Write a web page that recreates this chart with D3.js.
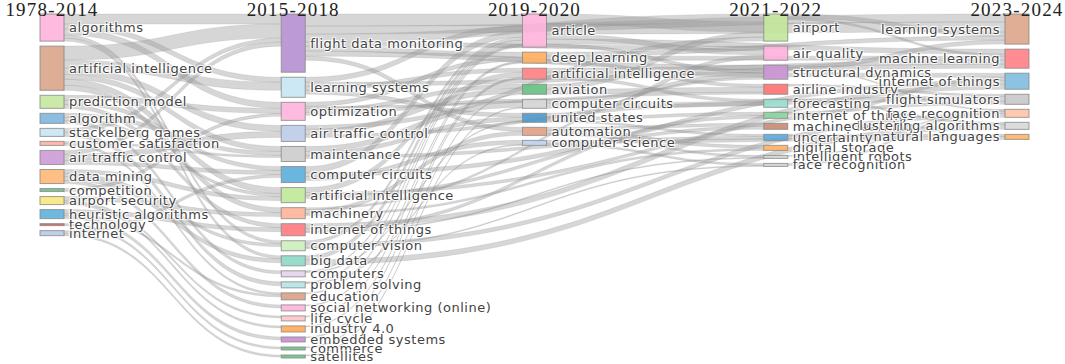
<!DOCTYPE html>
<html>
<head>
<meta charset="utf-8">
<script src="https://cdn.jsdelivr.net/npm/d3@7"></script>
<style>
  body { margin: 0; background: #fff; }
  .label {
    font-family: "DejaVu Sans", Verdana, sans-serif;
    font-size: 13px;
    letter-spacing: 0.5px;
    fill: #444;
    text-shadow: 1px 1px 1px #fff, -1px -1px 1px #fff, 1px -1px 1px #fff, -1px 1px 1px #fff;
  }
  .period {
    font-family: "Liberation Serif", "Times New Roman", serif;
    font-size: 19px;
    letter-spacing: 1.2px;
    fill: #222;
  }
</style>
</head>
<body>
<script>
// Periods (columns)
const periods = ["1978-2014", "2015-2018", "2019-2020", "2021-2022", "2023-2024"];

// Topics and their weights per period
const terms1 = ["algorithms", "artificial intelligence", "prediction model", "algorithm", "stackelberg games",
  "customer satisfaction", "air traffic control", "data mining", "competition", "airport security",
  "heuristic algorithms", "technology", "internet"];
const weights1 = [27, 44, 13, 10, 8, 4, 14, 14, 3, 8, 9, 2, 5];

const terms2 = ["flight data monitoring", "learning systems", "optimization", "air traffic control", "maintenance",
  "computer circuits", "artificial intelligence", "machinery", "internet of things", "computer vision", "big data",
  "computers", "problem solving", "education", "social networking (online)", "life cycle", "industry 4.0",
  "embedded systems", "commerce", "satellites"];
const weights2 = [58, 20, 18, 16, 15, 16, 15, 11, 12, 10, 10, 6, 6, 7, 6, 5, 6, 5, 3, 3];

const terms3 = ["article", "deep learning", "artificial intelligence", "aviation", "computer circuits",
  "united states", "automation", "computer science"];
const weights3 = [33, 11, 11, 10, 9, 9, 8, 5];

const terms4 = ["airport", "air quality", "structural dynamics", "airline industry", "forecasting",
  "internet of things", "machine learning", "uncertainty", "digital storage", "intelligent robots", "face recognition"];
const weights4 = [27, 14, 14, 10, 8, 6, 6, 6, 5, 3, 3];

const terms5 = ["learning systems", "machine learning", "internet of things", "flight simulators",
  "face recognition", "clustering algorithms", "natural languages"];
const weights5 = [30, 19, 16, 10, 8, 7, 5];

// Flows: [from period, from term, to period, to term, value]
const flows = [
  [0, "algorithms", 1, "flight data monitoring", 10],
  [0, "algorithms", 1, "learning systems", 5],
  [0, "algorithms", 1, "optimization", 6],
  [0, "algorithms", 1, "computer vision", 3],
  [0, "algorithms", 1, "big data", 3],
  [0, "artificial intelligence", 1, "flight data monitoring", 14],
  [0, "artificial intelligence", 1, "learning systems", 8],
  [0, "artificial intelligence", 1, "air traffic control", 6],
  [0, "artificial intelligence", 1, "maintenance", 5],
  [0, "artificial intelligence", 1, "artificial intelligence", 6],
  [0, "artificial intelligence", 1, "machinery", 5],
  [0, "prediction model", 1, "optimization", 5],
  [0, "prediction model", 1, "computer circuits", 4],
  [0, "prediction model", 1, "internet of things", 4],
  [0, "algorithm", 1, "maintenance", 4],
  [0, "algorithm", 1, "artificial intelligence", 3],
  [0, "algorithm", 1, "computers", 3],
  [0, "stackelberg games", 1, "flight data monitoring", 4],
  [0, "stackelberg games", 1, "problem solving", 4],
  [0, "customer satisfaction", 1, "maintenance", 2],
  [0, "customer satisfaction", 1, "education", 2],
  [0, "air traffic control", 1, "air traffic control", 6],
  [0, "air traffic control", 1, "flight data monitoring", 4],
  [0, "air traffic control", 1, "computer circuits", 4],
  [0, "data mining", 1, "artificial intelligence", 4],
  [0, "data mining", 1, "big data", 4],
  [0, "data mining", 1, "computer vision", 3],
  [0, "data mining", 1, "social networking (online)", 3],
  [0, "competition", 1, "optimization", 3],
  [0, "airport security", 1, "machinery", 4],
  [0, "airport security", 1, "life cycle", 2],
  [0, "airport security", 1, "industry 4.0", 2],
  [0, "heuristic algorithms", 1, "internet of things", 4],
  [0, "heuristic algorithms", 1, "embedded systems", 3],
  [0, "heuristic algorithms", 1, "education", 2],
  [0, "technology", 1, "commerce", 2],
  [0, "internet", 1, "computer circuits", 3],
  [0, "internet", 1, "satellites", 2],

  [1, "flight data monitoring", 2, "article", 12],
  [1, "flight data monitoring", 2, "deep learning", 5],
  [1, "flight data monitoring", 2, "automation", 4],
  [1, "flight data monitoring", 4, "learning systems", 8],
  [1, "flight data monitoring", 3, "airport", 8],
  [1, "flight data monitoring", 3, "structural dynamics", 5],
  [1, "flight data monitoring", 3, "air quality", 4],
  [1, "learning systems", 2, "article", 5],
  [1, "learning systems", 2, "artificial intelligence", 4],
  [1, "learning systems", 2, "united states", 4],
  [1, "learning systems", 4, "machine learning", 4],
  [1, "optimization", 2, "deep learning", 4],
  [1, "optimization", 2, "aviation", 4],
  [1, "optimization", 2, "computer circuits", 3],
  [1, "optimization", 3, "airline industry", 2],
  [1, "air traffic control", 2, "aviation", 5],
  [1, "air traffic control", 3, "airport", 4],
  [1, "air traffic control", 3, "forecasting", 3],
  [1, "maintenance", 2, "computer circuits", 5],
  [1, "maintenance", 2, "united states", 4],
  [1, "maintenance", 3, "uncertainty", 3],
  [1, "computer circuits", 2, "article", 6],
  [1, "computer circuits", 2, "computer science", 4],
  [1, "computer circuits", 4, "internet of things", 4],
  [1, "artificial intelligence", 2, "artificial intelligence", 5],
  [1, "artificial intelligence", 4, "flight simulators", 3],
  [1, "artificial intelligence", 3, "machine learning", 3],
  [1, "machinery", 2, "automation", 4],
  [1, "machinery", 3, "structural dynamics", 2],
  [1, "machinery", 3, "digital storage", 2],
  [1, "internet of things", 3, "internet of things", 3],
  [1, "internet of things", 4, "internet of things", 5],
  [1, "internet of things", 3, "intelligent robots", 1],
  [1, "computer vision", 2, "article", 3],
  [1, "computer vision", 3, "face recognition", 1],
  [1, "computer vision", 4, "face recognition", 4],
  [1, "big data", 2, "article", 4],
  [1, "big data", 4, "clustering algorithms", 5],
  [1, "computers", 2, "article", 1],
  [1, "computers", 2, "united states", 1],
  [1, "problem solving", 2, "article", 1],
  [1, "problem solving", 2, "computer science", 1],
  [1, "education", 2, "article", 1],
  [1, "social networking (online)", 2, "deep learning", 1],
  [1, "life cycle", 2, "deep learning", 1],
  [1, "industry 4.0", 2, "artificial intelligence", 1],
  [1, "embedded systems", 2, "artificial intelligence", 1],
  [1, "commerce", 2, "aviation", 1],
  [1, "satellites", 2, "computer circuits", 1],

  [2, "article", 3, "airport", 10],
  [2, "article", 4, "learning systems", 10],
  [2, "article", 3, "air quality", 5],
  [2, "article", 4, "machine learning", 5],
  [2, "article", 3, "structural dynamics", 3],
  [2, "deep learning", 4, "learning systems", 4],
  [2, "deep learning", 4, "machine learning", 4],
  [2, "deep learning", 3, "airline industry", 3],
  [2, "artificial intelligence", 4, "machine learning", 4],
  [2, "artificial intelligence", 3, "forecasting", 3],
  [2, "artificial intelligence", 4, "internet of things", 4],
  [2, "aviation", 3, "airport", 5],
  [2, "aviation", 3, "airline industry", 5],
  [2, "computer circuits", 3, "structural dynamics", 4],
  [2, "computer circuits", 4, "flight simulators", 5],
  [2, "united states", 3, "air quality", 4],
  [2, "united states", 3, "internet of things", 3],
  [2, "united states", 3, "uncertainty", 2],
  [2, "automation", 3, "machine learning", 3],
  [2, "automation", 3, "intelligent robots", 2],
  [2, "automation", 3, "digital storage", 3],
  [2, "computer science", 4, "natural languages", 3],
  [2, "computer science", 3, "face recognition", 2],

  [3, "airport", 4, "learning systems", 4],
  [3, "airport", 4, "machine learning", 2],
  [3, "structural dynamics", 4, "learning systems", 4],
  [3, "structural dynamics", 4, "face recognition", 1],
  [3, "airline industry", 4, "flight simulators", 2],
  [3, "forecasting", 4, "clustering algorithms", 2],
  [3, "internet of things", 4, "internet of things", 3],
  [3, "uncertainty", 4, "natural languages", 2],
  [3, "face recognition", 4, "face recognition", 2],
  [3, "intelligent robots", 4, "face recognition", 1]
];

// Node colours (style, kept apart from the data)
const colors1 = ["#ffb3dc", "#d9a48a", "#c5e8a0", "#7fb6df", "#c8e4f2", "#ffb0a0", "#cc9ad6", "#ffb877",
  "#6fbf88", "#f9e67f", "#5fb0dc", "#d46060", "#b8c9ea"];
const colors2 = ["#b48fd0", "#c5e5f3", "#ffb3dc", "#bccbe8", "#cccccc", "#5aaedc", "#bfe898", "#ffb399",
  "#ff7a80", "#cdeebd", "#8dd8c5", "#e3d3ea", "#b4e6e3", "#d9a085", "#ffb3dc", "#ffc4c8", "#ffaa55",
  "#c98cd0", "#6dc086", "#6dc086"];
const colors3 = ["#ffb3dc", "#ffae5c", "#ff8080", "#66c080", "#d4d4d4", "#4b98c8", "#e39e80", "#bccfee"];
const colors4 = ["#c2e69a", "#ffb0dc", "#c992d4", "#ff7070", "#99dfcf", "#88d49c", "#c78a72", "#5aa9dc",
  "#ffb060", "#d4d4d4", "#d4d4d4"];
const colors5 = ["#dca58a", "#ff7f85", "#80bce0", "#c8c8c8", "#ffc2a8", "#d8d8d8", "#ffb466"];

const width = 1065, height = 364;
const nodeWidth = 24, pad = 5, topY = 14, bottomY = 358;

const svg = d3.select("body").append("svg")
  .attr("width", width)
  .attr("height", height);

const allTerms = [terms1, terms2, terms3, terms4, terms5];
const allWeights = [weights1, weights2, weights3, weights4, weights5];
const allColors = [colors1, colors2, colors3, colors4, colors5];

const x = d3.scalePoint().domain(periods).range([40, 1005]);

const columns = allTerms.map((terms, c) => terms.map((t, i) => ({
  col: c, term: t, value: allWeights[c][i], color: allColors[c][i], outs: [], ins: []
})));

const maxSum = d3.max(columns, col => d3.sum(col, d => d.value));
const maxCount = d3.max(columns, col => col.length);
const y = d3.scaleLinear()
  .domain([0, maxSum])
  .range([0, bottomY - topY - (maxCount - 1) * pad]);

// stack nodes in each column
const byKey = new Map();
columns.forEach(col => {
  let y0 = topY;
  col.forEach(n => {
    n.x0 = x(periods[n.col]);
    n.x1 = n.x0 + nodeWidth;
    n.y0 = y0;
    n.y1 = y0 + y(n.value);
    y0 = n.y1 + pad;
    byKey.set(n.col + "|" + n.term, n);
  });
});

const links = flows.map(([c0, t0, c1, t1, v]) => {
  const s = byKey.get(c0 + "|" + t0), t = byKey.get(c1 + "|" + t1);
  const l = { source: s, target: t, value: v, w: y(v) };
  s.outs.push(l);
  t.ins.push(l);
  return l;
});

// place links inside nodes, ordered by the other end
byKey.forEach(n => {
  n.outs.sort((a, b) => a.target.y0 - b.target.y0);
  let sy = n.y0;
  n.outs.forEach(l => { l.sy = sy; sy += l.w; });
  n.ins.sort((a, b) => a.source.y0 - b.source.y0);
  let ty = n.y0;
  n.ins.forEach(l => { l.ty = ty; ty += l.w; });
});

function ribbon(l) {
  const x0 = l.source.x1, x1 = l.target.x0, xm = (x0 + x1) / 2;
  return `M${x0},${l.sy}C${xm},${l.sy} ${xm},${l.ty} ${x1},${l.ty}` +
    `L${x1},${l.ty + l.w}C${xm},${l.ty + l.w} ${xm},${l.sy + l.w} ${x0},${l.sy + l.w}Z`;
}

// Links
svg.append("g")
  .selectAll("path")
  .data(links)
  .enter()
  .append("path")
  .attr("d", ribbon)
  .attr("fill", "#999")
  .attr("fill-opacity", 0.4)
  .attr("stroke", "#777")
  .attr("stroke-opacity", 0.35)
  .attr("stroke-width", 0.4);

const nodes = columns.flat();

// Nodes
svg.append("g")
  .selectAll("rect")
  .data(nodes)
  .enter()
  .append("rect")
  .attr("x", d => d.x0)
  .attr("y", d => d.y0)
  .attr("width", nodeWidth)
  .attr("height", d => Math.max(1, d.y1 - d.y0))
  .attr("fill", d => d.color)
  .attr("fill-opacity", 0.9)
  .attr("stroke", "#888")
  .attr("stroke-opacity", 0.8)
  .attr("stroke-width", 1);

// Labels
const last = periods.length - 1;
svg.append("g")
  .selectAll("text")
  .data(nodes)
  .enter()
  .append("text")
  .attr("class", "label")
  .attr("x", d => d.col === last ? d.x0 - 5 : d.x1 + 5)
  .attr("y", d => (d.y0 + d.y1) / 2)
  .attr("dy", "0.35em")
  .attr("text-anchor", d => d.col === last ? "end" : "start")
  .text(d => d.term);

// Period titles, centred over the node columns, kept inside the page
svg.append("g")
  .selectAll("text")
  .data(periods)
  .enter()
  .append("text")
  .attr("class", "period")
  .attr("y", 16)
  .attr("text-anchor", "middle")
  .text(d => d)
  .attr("x", function(d) {
    const w = this.getComputedTextLength();
    const c = x(d) + nodeWidth / 2;
    return Math.min(Math.max(c, w / 2), width - w / 2);
  });
</script>
</body>
</html>
